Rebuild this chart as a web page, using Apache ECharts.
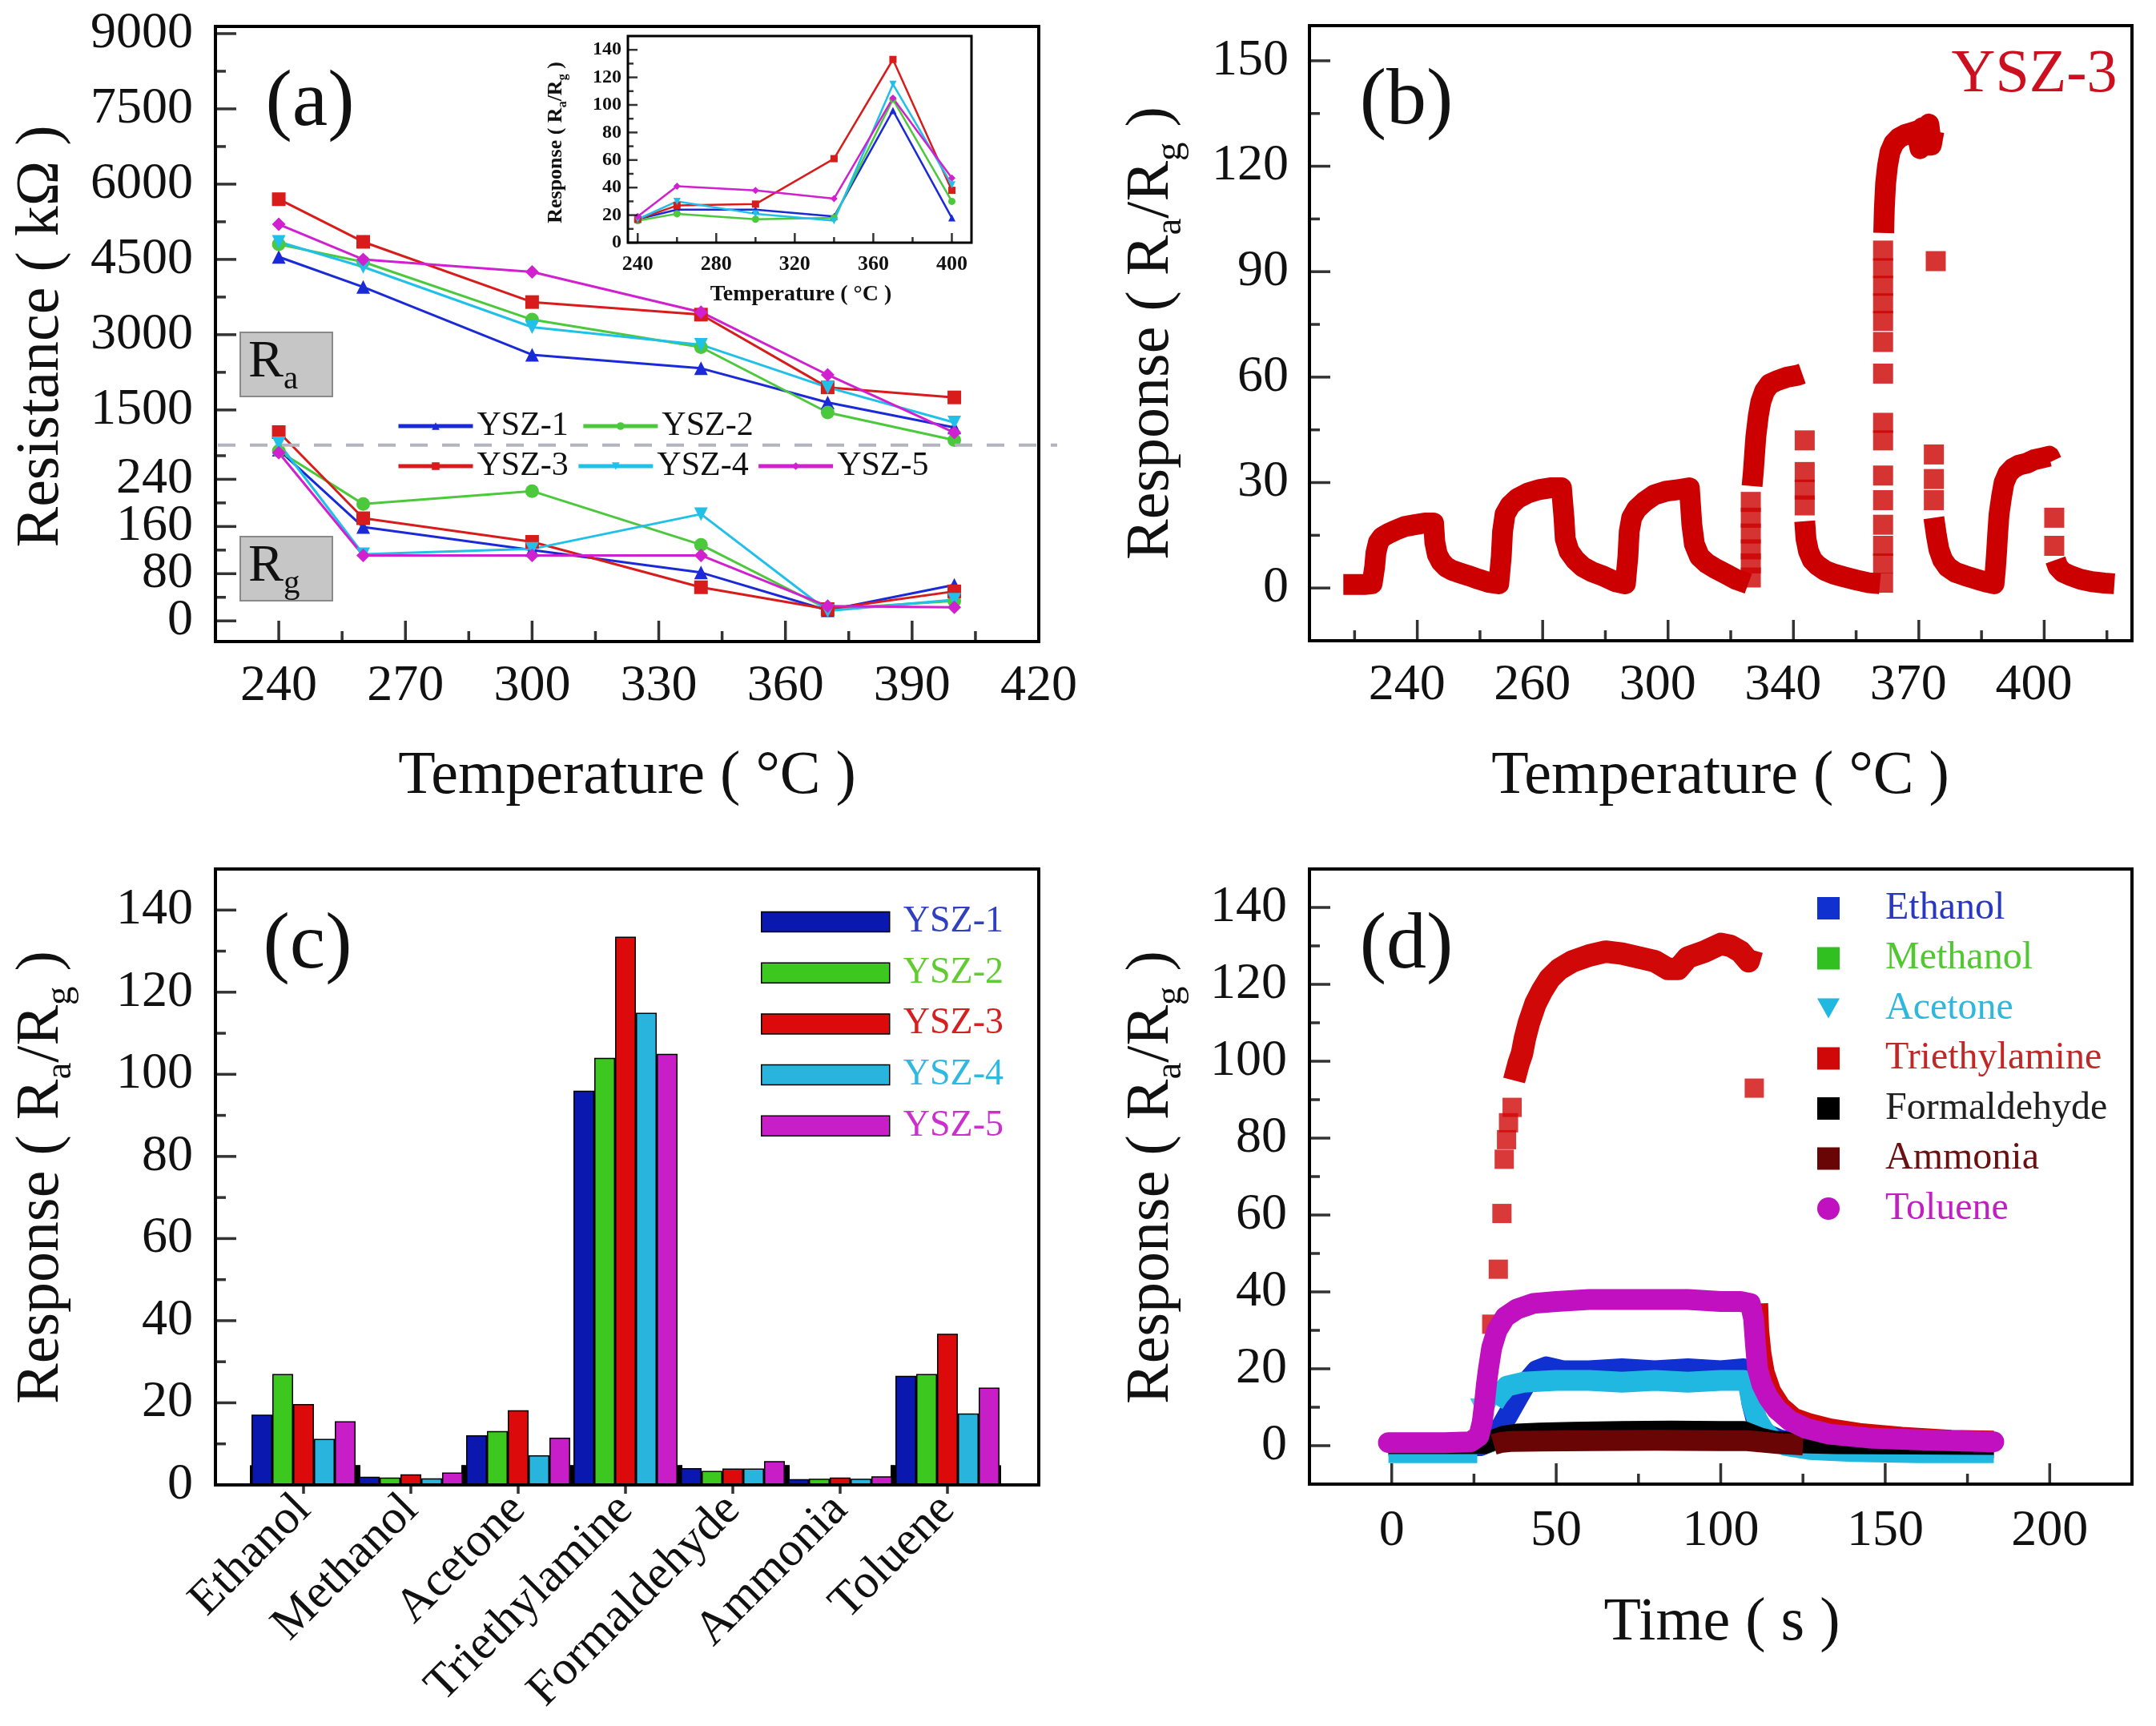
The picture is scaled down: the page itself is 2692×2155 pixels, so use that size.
<!DOCTYPE html>
<html>
<head>
<meta charset="utf-8">
<script src="https://cdn.jsdelivr.net/npm/echarts@6/dist/echarts.min.js"></script>
<style>
html, body { margin: 0; padding: 0; background: #fff; }
#chart { width: 2692px; height: 2155px; }
</style>
</head>
<body>
<div id="chart"></div>
<script>
var FONT = 'Liberation Serif';

// (a) resistance in air / in gas vs operating temperature
var temps = [240, 260, 300, 340, 370, 400];
var raYsz1 = [4550, 3950, 2600, 2330, 1650, 1150];
var raYsz2 = [4800, 4450, 3300, 2750, 1450, 900];
var raYsz3 = [5700, 4850, 3650, 3400, 1950, 1750];
var raYsz4 = [4850, 4350, 3150, 2800, 1950, 1250];
var raYsz5 = [5200, 4500, 4250, 3450, 2200, 1050];
var rgYsz1 = [290, 159, 120, 82, 18, 61];
var rgYsz2 = [288, 198, 220, 129, 20, 34];
var rgYsz3 = [320, 174, 134, 57, 20, 50];
var rgYsz4 = [301, 113, 122, 181, 17, 36];
var rgYsz5 = [285, 111, 111, 111, 25, 23];

// (a) inset: response vs temperature
var respYsz1 = [17, 24, 24, 19, 96, 18];
var respYsz2 = [16, 21, 17, 18, 104, 30];
var respYsz3 = [17, 27, 28, 61, 133, 38];
var respYsz4 = [17, 30, 21, 16, 115, 42];
var respYsz5 = [19, 41, 38, 32, 105, 47];

// (b) YSZ-3 dynamic response, one pulse per temperature (x in arbitrary time units)
var bTickPos = [100, 200, 300, 400, 500, 600];
var bTickLabels = ['240', '260', '300', '340', '370', '400'];
var ysz3Trace = [
  [41, 1], [50, 1], [58, 1], [64, 1.2], [66, 6], [67, 10], [69, 13], [72, 14.5], [77, 15.5], [83, 16.5], [90, 17.5], [98, 18], [106, 18.5], [113, 18.5],
  [114, 13], [116, 9.5], [119, 7.5], [123, 6], [128, 5], [134, 4.3], [141, 3.5], [149, 2.5], [157, 1.6], [165, 1.2],
  [167, 9], [168, 16], [170, 21], [174, 23.5], [180, 25.5], [188, 27], [197, 28], [206, 28.5], [215, 28.5],
  [217, 20], [218, 14], [221, 10.5], [226, 8], [232, 6], [240, 4.5], [249, 3.3], [258, 1.8], [266, 1.2],
  [268, 9], [269, 16], [271, 20], [275, 22.5], [281, 24.5], [289, 26.5], [298, 27.5], [308, 28], [317, 28.5],
  [319, 18], [321, 12.5], [325, 9], [331, 7], [338, 5.5], [346, 4], [354, 2.5], [364, 1.2],
  [365, null],
  [367, 29], [368, 33], [369, 38], [370, 43], [372, 49], [374, 53], [377, 56], [381, 58], [387, 59], [395, 60], [403, 60.5], [407, 61],
  [408, null],
  [409, 19], [410, 14], [412, 10.5], [415, 8], [419, 6.5], [425, 5], [432, 4], [440, 3.2], [450, 2.3], [460, 1.5], [469, 1.2],
  [470, null],
  [472, 101], [472.5, 108], [473.5, 115], [475, 120], [477, 124], [480, 126.5], [484, 128], [489, 129], [494, 129.5], [498, 130],
  [501, 125], [503, 131], [506, 126], [508, 132], [510, 126], [512, 130],
  [513, null],
  [512, 20], [514, 15], [516, 11], [519, 8], [523, 6], [529, 4.5], [537, 3.5], [546, 2.5], [555, 1.6], [560, 1.2],
  [561, 5], [562, 10], [563, 16], [564, 21], [566, 26], [568, 30], [571, 32.5], [575, 34], [580, 35], [586, 35.5], [592, 36.5], [598, 37], [604, 37.5], [606, 36],
  [607, null],
  [609, 8], [611, 6], [615, 4.5], [621, 3.5], [629, 2.5], [638, 1.8], [648, 1.4], [656, 1.2]
];
var ysz3Jumps = [
  [366, 3], [366, 7], [366, 11], [366, 15.5], [366, 20], [366, 24.5],
  [409, 42], [409, 33], [409, 28], [409, 23.5],
  [471.5, 1.5], [471.5, 7], [471.5, 12], [471.5, 18], [471.5, 25], [471.5, 32], [471.5, 42], [471.5, 47],
  [471.5, 61], [471.5, 70], [471.5, 76], [471.5, 81], [471.5, 86], [471.5, 91], [471.5, 96],
  [513.5, 93], [512, 38], [512, 31], [512, 25],
  [608, 20], [608, 12]
];

// (c) selectivity
var gases = ['Ethanol', 'Methanol', 'Acetone', 'Triethylamine', 'Formaldehyde', 'Ammonia', 'Toluene'];
var barYsz1 = [17.1, 2.0, 12.1, 96, 4.1, 1.4, 26.6];
var barYsz2 = [27, 1.8, 13.1, 104, 3.4, 1.5, 27];
var barYsz3 = [19.7, 2.6, 18.2, 133.5, 4.0, 1.8, 36.8];
var barYsz4 = [11.2, 1.6, 7.2, 115, 4.0, 1.5, 17.4];
var barYsz5 = [15.5, 3.0, 11.5, 105, 5.8, 2.1, 23.7];
var edgeBar = [4.8, 4.8, 4.8, 4.8, 4.8, 4.8, 4.8];

// (d) response transients of YSZ-3 at 370 C (time in s)
var gasEthanol = [[-1, 0], [27, 0], [30, 1], [32, 3], [34, 6], [36, 9], [38, 12], [40, 15], [42, 17.5], [44, 19.5], [47, 20.5], [52, 19.5], [60, 19.5],
  [70, 20], [80, 19.5], [90, 20], [100, 19.5], [107, 20], [108.5, 17], [109.5, 11], [111, 6], [114, 3], [118, 1.5], [125, 0.5], [140, 0], [160, -0.5], [183, -0.5]];
var gasMethanol = [[-1, 0.5], [28, 0.5], [32, 1.5], [40, 2], [60, 2.2], [80, 2.2], [100, 2.2], [108, 2.2], [112, 1.2], [120, 0.6], [183, 0.4]];
var gasAcetone = [[-1, -1.8], [10, -1.8], [20, -1.8], [26, -1.8], [27, null],
  [31, 11], [32.5, 13], [35, 15.5], [40, 16.5], [50, 17], [60, 17], [70, 16.5], [80, 17], [90, 16.5], [100, 17], [107, 17],
  [108.5, 15.5], [109.5, 11], [111, 7], [113, 4], [116, 1.5], [120, 0], [127, -1], [140, -1.5], [160, -1.8], [183, -1.8]];
var acetoneSpike = [[26.5, 10], [28, 10.5], [29.5, 9]];
var gasTea = [
  [37.2, 95], [38.6, 99.5], [39.6, 102], [40.5, 106], [41.7, 110], [43.7, 115], [45.8, 118.5], [48, 121.5], [51, 124], [55, 126],
  [60, 127.5], [65, 128.5], [70, 128], [75, 127], [80, 126], [84, 124], [87, 124], [90, 127], [95, 128.5], [100, 130.5], [103, 130],
  [106, 128.5], [108.5, 126], [109.5, 129], [110, null],
  [111, 37], [111.3, 30], [112, 24], [113, 19], [115, 14], [118, 10], [122, 7], [127, 5.5], [133, 4.2], [142, 3], [155, 2], [170, 1.2], [183, 1]];
var teaJumps = [[30.4, 31.6], [32.4, 45.9], [33.5, 60.4], [34.2, 74.5], [34.9, 79.6], [35.5, 84], [36.6, 88], [110.2, 93]];
var gasFormaldehyde = [[-1, 0.5], [28, 0.5], [31, 1.5], [34, 2.5], [38, 3], [45, 3.3], [55, 3.5], [70, 3.7], [85, 3.8], [100, 3.7], [107, 3.7],
  [109, 3], [112, 2], [116, 1.2], [122, 0.8], [135, 0.5], [183, 0.3]];
var gasAmmonia = [[31, 0.3], [33, 0.8], [36, 1.1], [45, 1.2], [60, 1.3], [80, 1.4], [100, 1.3], [108, 1.3], [112, 1], [118, 0.5], [125, 0.2]];
var gasToluene = [[-1, 0.8], [8, 0.8], [16, 0.8], [24, 1], [26.5, 2.5], [27.5, 6], [28.2, 11], [28.8, 16], [29.4, 20], [30.4, 25.5], [32, 30],
  [34.5, 33.5], [38, 35.5], [43, 37], [50, 37.5], [60, 38], [70, 38], [80, 38], [90, 38], [100, 37.5], [106, 37.5], [109, 37],
  [110, 33], [110.6, 26], [111.2, 20], [112.5, 16], [114.5, 12.5], [117, 9.5], [121, 6.5], [126, 4.5], [133, 3], [145, 2], [160, 1.5], [183, 1]];

var samples = ['YSZ-1', 'YSZ-2', 'YSZ-3', 'YSZ-4', 'YSZ-5'];
var lineColors = ['#1a2ad8', '#4cc83c', '#d81c1c', '#20c0e8', '#d020d0'];
var barColors = ['#0a18b0', '#3cc81e', '#dc0a0a', '#28b4dc', '#c81ec8'];
var barTextColors = ['#3040c0', '#60cc30', '#d42020', '#30b8e0', '#cc30cc'];
var invTri = 'path://M0,0L10,0L5,9Z';
var markers = ['triangle', 'circle', 'rect', invTri, 'diamond'];

var raSets = [raYsz1, raYsz2, raYsz3, raYsz4, raYsz5];
var rgSets = [rgYsz1, rgYsz2, rgYsz3, rgYsz4, rgYsz5];
var respSets = [respYsz1, respYsz2, respYsz3, respYsz4, respYsz5];
var barSets = [barYsz1, barYsz2, barYsz3, barYsz4, barYsz5];
var barNames = ['c1', 'c2', 'c3', 'c4', 'c5'];

var gasNames = ['Ethanol', 'Methanol', 'Acetone', 'Triethylamine', 'Formaldehyde', 'Ammonia', 'Toluene'];
var gasSets = [gasEthanol, gasMethanol, gasAcetone, gasTea, gasFormaldehyde, gasAmmonia, gasToluene];
var gasColors = ['#1030d0', '#30c020', '#20b8e0', '#d00808', '#000000', '#6a0505', '#c010c0'];
var gasTextColors = ['#2838c0', '#50c830', '#30b8dc', '#c02828', '#202020', '#6a1010', '#c020c0'];
var gasIcons = ['rect', 'rect', invTri, 'rect', 'rect', 'rect', 'circle'];

function pairs(xs, ys) {
  return xs.map(function (x, i) { return [x, ys[i]]; });
}
function steps(a, b, step) {
  var r = [];
  for (var v = a; v <= b + 1e-9; v += step) r.push(Math.round(v * 100) / 100);
  return r;
}
function plain(v) { return String(v); }

// grids: 0 (a) Ra, 1 (a) Rg, 2 inset, 3 (b), 4 (c) bars, 5 (d), 6 (c) frame
var GRIDS = 7;
var xAxes = [], yAxes = [];
function addX(a) { xAxes.push(a); return xAxes.length - 1; }
function addY(a) { yAxes.push(a); return yAxes.length - 1; }

// hidden 0..1 anchor axes: every visible axis sits "on zero" of one, i.e. on the grid edge
var anchorX = [], anchorY = [];
for (var g = 0; g < GRIDS; g++) {
  anchorX.push(addX({ type: 'value', gridIndex: g, min: 0, max: 1, show: false, axisLine: { onZero: false } }));
  anchorY.push(addY({ type: 'value', gridIndex: g, min: 0, max: 1, show: false, axisLine: { onZero: false } }));
}

function labelStyle(ticks, extra) {
  return Object.assign({ show: true, customValues: ticks, formatter: plain, showMinLabel: true, showMaxLabel: true,
    hideOverlap: false, fontFamily: FONT, fontSize: 64, color: '#111', margin: 28 }, extra || {});
}
// value axis carrying labels only; tick marks are drawn by the tick series below
function valAxis(dim, grid, min, max, label) {
  return {
    type: 'value', gridIndex: grid, min: min, max: max,
    position: dim === 'x' ? 'bottom' : 'left',
    axisLine: { show: false, onZero: true, onZeroAxisIndex: dim === 'x' ? anchorY[grid] : anchorX[grid] },
    splitLine: { show: false },
    axisTick: { show: false },
    axisLabel: label || { show: false }
  };
}

var insetLabel = { fontSize: 26, fontWeight: 'bold', margin: 14 };

// tick sets (positions on each axis)
var aRaMajor = steps(1500, 9000, 1500), aRaMinor = steps(2250, 8250, 1500);
var aRgMajor = steps(0, 240, 80), aRgMinor = steps(40, 280, 80);
var aTMajor = steps(240, 420, 30), aTMinor = steps(255, 405, 30);
var inTMajor = steps(240, 400, 40), inTMinor = steps(260, 380, 40);
var inRMajor = steps(0, 140, 20), inRMinor = steps(10, 130, 20);
var bXMinor = steps(50, 650, 100);
var bYMajor = steps(0, 150, 30), bYMinor = steps(15, 135, 30);
var respMajor = steps(0, 140, 20), respMinor = steps(10, 130, 20);
var dXMajor = steps(0, 200, 50), dXMinor = steps(25, 175, 50);

// (a)
var xA0 = addX({ type: 'value', gridIndex: 0, min: 225, max: 420, show: false, axisLine: { onZero: false } });
var yA0 = addY(valAxis('y', 0, 800, 9143, labelStyle(aRaMajor)));
var xA1 = addX(valAxis('x', 1, 225, 420, labelStyle(aTMajor, { margin: 24 })));
// the Rg scale is tight, so its labels are split over two axes to keep them all visible
var yA1 = addY(valAxis('y', 1, -35, 298, labelStyle([0, 160])));
addY(valAxis('y', 1, -35, 298, labelStyle([80, 240])));
// inset
var xIn = addX(valAxis('x', 2, 235, 410, labelStyle(inTMajor, insetLabel)));
var yIn = addY(valAxis('y', 2, 0, 150, labelStyle(inRMajor, { fontSize: 24, fontWeight: 'bold', margin: 8 })));
// (b)
var xB = addX(valAxis('x', 3, 14, 670, labelStyle(bTickPos, {
  margin: 24, padding: [0, 26, 0, 0],
  formatter: function (v) { return bTickLabels[bTickPos.indexOf(Math.round(v))] || ''; }
})));
var yB = addY(valAxis('y', 3, -15, 160, labelStyle(bYMajor, { margin: 26 })));
// (c): bars live in grid 4, the visible value axis in the wider frame grid 6
var yCbars = addY({ type: 'value', gridIndex: 4, min: 0, max: 150, show: false, axisLine: { onZero: false } });
var xC = addX({
  type: 'category', gridIndex: 4, data: gases, boundaryGap: true, position: 'bottom',
  axisLine: { show: false, onZero: true, onZeroAxisIndex: anchorY[4] },
  axisTick: { show: false },
  axisLabel: { show: true, interval: 0, rotate: 45, fontFamily: FONT, fontSize: 60, color: '#111', margin: 22 }
});
var xCedge = addX({ type: 'category', gridIndex: 4, data: gases, show: false, axisLine: { onZero: false } });
var yC = addY(valAxis('y', 6, 0, 150, labelStyle(respMajor)));
// (d)
var xD = addX(valAxis('x', 5, -25, 225, labelStyle(dXMajor, { margin: 27 })));
var yD = addY(valAxis('y', 5, -10, 150, labelStyle(respMajor)));

var series = [];
samples.forEach(function (name, i) {
  var common = {
    type: 'line', symbol: markers[i], clip: false,
    itemStyle: { color: lineColors[i] }, lineStyle: { color: lineColors[i], width: 3 }
  };
  series.push(Object.assign({}, common, { name: name, xAxisIndex: xA0, yAxisIndex: yA0, symbolSize: 17, data: pairs(temps, raSets[i]) }));
  series.push(Object.assign({}, common, { name: name + ' Rg', xAxisIndex: xA1, yAxisIndex: yA1, symbolSize: 17, data: pairs(temps, rgSets[i]) }));
  series.push(Object.assign({}, common, {
    name: name + ' S', xAxisIndex: xIn, yAxisIndex: yIn, symbolSize: 9,
    lineStyle: { color: lineColors[i], width: 2.5 }, data: pairs(temps, respSets[i])
  }));
});

series.push({
  type: 'line', name: 'YSZ-3 b', xAxisIndex: xB, yAxisIndex: yB, data: ysz3Trace,
  showSymbol: false, connectNulls: false,
  lineStyle: { color: '#cc0000', width: 26, join: 'round', cap: 'butt' }
});
series.push({
  type: 'scatter', name: 'YSZ-3 b', xAxisIndex: xB, yAxisIndex: yB, data: ysz3Jumps,
  symbol: 'rect', symbolSize: 25, itemStyle: { color: '#cc0000' }
});

// thin dark marks at the edges of every group, behind the coloured bars
['cEdgeL', 'cEdgeR'].forEach(function (n) {
  series.push({
    type: 'bar', name: n, xAxisIndex: xCedge, yAxisIndex: yCbars, data: edgeBar,
    barWidth: 8, barGap: '1575%', itemStyle: { color: '#000' }, z: 1
  });
});
samples.forEach(function (name, i) {
  series.push({
    type: 'bar', name: barNames[i], xAxisIndex: xC, yAxisIndex: yCbars, data: barSets[i],
    barGap: '0%', barCategoryGap: '3%', z: 2,
    itemStyle: { color: barColors[i], borderColor: '#000', borderWidth: 1.5 }
  });
});

gasNames.forEach(function (name, i) {
  series.push({
    type: 'line', name: name, xAxisIndex: xD, yAxisIndex: yD, data: gasSets[i],
    showSymbol: false, connectNulls: false,
    itemStyle: { color: gasColors[i] },
    lineStyle: { color: gasColors[i], width: name === 'Triethylamine' ? 28 : 26, join: 'round', cap: name === 'Toluene' ? 'round' : 'butt' }
  });
  if (name === 'Acetone') {
    series.push({
      type: 'scatter', name: name, xAxisIndex: xD, yAxisIndex: yD, data: acetoneSpike,
      symbol: invTri, symbolSize: 22, itemStyle: { color: gasColors[i] }
    });
  }
  if (name === 'Triethylamine') {
    series.push({
      type: 'scatter', name: name, xAxisIndex: xD, yAxisIndex: yD, data: teaJumps,
      symbol: 'rect', symbolSize: 24, itemStyle: { color: gasColors[i] }
    });
  }
});

// Tick marks: thin rectangles placed by the axes' own scales, offset so that they
// start on the frame and point into the plot (negative length points outward).
function tickSeries(xIdx, yIdx, pts, size, offset) {
  return {
    type: 'scatter', name: 'tick', xAxisIndex: xIdx, yAxisIndex: yIdx, data: pts,
    symbol: 'rect', symbolSize: size, symbolOffset: offset, clip: false, silent: true, z: 20,
    itemStyle: { color: '#000' }, emphasis: { disabled: true }
  };
}
function bottomTicks(xIdx, yIdx, values, edge, len, w) {
  w = w || 3.5;
  series.push(tickSeries(xIdx, yIdx, values.map(function (v) { return [v, edge]; }),
    [w, Math.abs(len)], [0, -len / 2]));
}
function leftTicks(xIdx, yIdx, values, edge, len, w) {
  w = w || 3.5;
  series.push(tickSeries(xIdx, yIdx, values.map(function (v) { return [edge, v]; }),
    [Math.abs(len), w], [len / 2, 0]));
}
leftTicks(xA0, yA0, aRaMajor, 225, 26); leftTicks(xA0, yA0, aRaMinor, 225, 13);
leftTicks(xA1, yA1, aRgMajor, 225, 26); leftTicks(xA1, yA1, aRgMinor, 225, 13);
bottomTicks(xA1, yA1, aTMajor, -35, 26); bottomTicks(xA1, yA1, aTMinor, -35, 13);
bottomTicks(xIn, yIn, inTMajor, 0, 12, 2.5); bottomTicks(xIn, yIn, inTMinor, 0, 7, 2.5);
leftTicks(xIn, yIn, inRMajor, 235, 12, 2.5); leftTicks(xIn, yIn, inRMinor, 235, 7, 2.5);
bottomTicks(xB, yB, bTickPos, -15, 26); bottomTicks(xB, yB, bXMinor, -15, 13);
leftTicks(xB, yB, bYMajor, 14, 26); leftTicks(xB, yB, bYMinor, 14, 13);
leftTicks(anchorX[6], yC, respMajor, 0, 26); leftTicks(anchorX[6], yC, respMinor, 0, 13);
bottomTicks(xC, yCbars, [0, 1, 2, 3, 4, 5, 6], 0, -11);
bottomTicks(xD, yD, dXMajor, -10, 26); bottomTicks(xD, yD, dXMinor, -10, 13);
leftTicks(xD, yD, respMajor, -25, 26); leftTicks(xD, yD, respMinor, -25, 13);

function txt(x, y, text, size, extra, rot) {
  var style = Object.assign({
    text: text, fontFamily: FONT, fontSize: size, fill: '#111',
    align: 'center', verticalAlign: 'middle'
  }, extra || {});
  return { type: 'text', x: x, y: y, rotation: rot || 0, z: 100, style: style };
}
function subStyle(size, bold) {
  return {
    lineHeight: Math.round(size * 1.25),
    rich: {
      s: { fontFamily: FONT, fontSize: Math.round(size * 0.62), fontWeight: bold ? 'bold' : 'normal',
           fill: '#111', verticalAlign: 'bottom', lineHeight: Math.round(size * 0.62) }
    },
    fontWeight: bold ? 'bold' : 'normal'
  };
}
function frame(x, y, w, h, lw) {
  return { type: 'rect', z: 100, shape: { x: x, y: y, width: w, height: h },
           style: { fill: 'none', stroke: '#000', lineWidth: lw } };
}
function rBox(y, sub) {
  return [
    { type: 'rect', z: 50, shape: { x: 300, y: y, width: 115, height: 80 },
      style: { fill: '#c6c6c6', stroke: '#8a8a8a', lineWidth: 2 } },
    txt(310, y + 38, 'R{s|' + sub + '}', 66, Object.assign({ align: 'left' }, subStyle(66)))
  ];
}

var ROT = Math.PI / 2;
var graphics = [
  frame(269, 33, 1028, 768, 4),
  frame(1635, 32, 1027, 768, 4),
  frame(269, 1085, 1028, 769, 4),
  frame(1635, 1085, 1027, 768, 4),
  frame(784, 45, 429, 258, 3),
  { type: 'line', z: 60, shape: { x1: 272, y1: 555.7, x2: 1320, y2: 555.7 },
    style: { stroke: '#b4b4c0', lineWidth: 4, lineDash: [22, 18] } },
  txt(387, 130, '(a)', 100),
  txt(1756, 128, '(b)', 100),
  txt(384, 1182, '(c)', 100),
  txt(1756, 1182, '(d)', 100),
  txt(2540, 94, 'YSZ-3', 76, { fill: '#cc1020' }),
  txt(52, 420, 'Resistance ( kΩ )', 76, null, ROT),
  txt(783, 970, 'Temperature ( °C )', 76),
  txt(1438, 416, 'Response ( R{s|a}/R{s|g} )', 76, subStyle(76), ROT),
  txt(2148, 970, 'Temperature ( °C )', 76),
  txt(52, 1470, 'Response ( R{s|a}/R{s|g} )', 76, subStyle(76), ROT),
  txt(1438, 1470, 'Response ( R{s|a}/R{s|g} )', 76, subStyle(76), ROT),
  txt(2150, 2027, 'Time ( s )', 76),
  txt(1000, 368, 'Temperature ( °C )', 28, { fontWeight: 'bold' }),
  txt(694, 178, 'Response ( R{s|a}/R{s|g} )', 26, subStyle(26, true), ROT)
].concat(rBox(415, 'a'), rBox(670, 'g'));

var lineLegendText = { fontFamily: FONT, fontSize: 42, color: '#111', lineHeight: 42 };
var option = {
  animation: false,
  backgroundColor: '#fff',
  textStyle: { fontFamily: FONT },
  grid: [
    { left: 269, top: 33, width: 1028, height: 522.7 },
    { left: 269, top: 555.7, width: 1028, height: 245.3 },
    { left: 784, top: 45, width: 429, height: 258 },
    { left: 1635, top: 32, width: 1027, height: 768 },
    { left: 312, top: 1085, width: 938, height: 769 },
    { left: 1635, top: 1085, width: 1027, height: 768 },
    { left: 269, top: 1085, width: 1028, height: 769 }
  ],
  xAxis: xAxes,
  yAxis: yAxes,
  legend: [
    { data: ['YSZ-1', 'YSZ-2'], left: 495, top: 511, padding: 0, itemWidth: 93, itemHeight: 12, itemGap: 16,
      selectedMode: false, lineStyle: { width: 5 }, textStyle: lineLegendText },
    { data: ['YSZ-3', 'YSZ-4', 'YSZ-5'], left: 495, top: 561, padding: 0, itemWidth: 93, itemHeight: 12, itemGap: 10,
      selectedMode: false, lineStyle: { width: 5 }, textStyle: lineLegendText },
    { data: barNames.map(function (n, i) { return { name: n, textStyle: { color: barTextColors[i] } }; }),
      orient: 'vertical', left: 950, top: 1128, padding: 0, itemWidth: 160, itemHeight: 25, itemGap: 17.7,
      icon: 'rect', selectedMode: false,
      itemStyle: { borderColor: '#000', borderWidth: 1.5 },
      formatter: function (n) { return samples[barNames.indexOf(n)]; },
      textStyle: { fontFamily: FONT, fontSize: 46, lineHeight: 46, padding: [0, 0, 0, 12] } },
    { data: gasNames.map(function (n, i) { return { name: n, icon: gasIcons[i], textStyle: { color: gasTextColors[i] } }; }),
      orient: 'vertical', left: 2269, top: 1110, padding: 0, itemWidth: 28, itemHeight: 28, itemGap: 14.5,
      selectedMode: false,
      textStyle: { fontFamily: FONT, fontSize: 48, lineHeight: 48, padding: [0, 0, 0, 52] } }
  ],
  graphic: graphics,
  series: series
};

var chart = echarts.init(document.getElementById('chart'), null, { renderer: 'canvas' });
chart.setOption(option);
</script>
</body>
</html>
